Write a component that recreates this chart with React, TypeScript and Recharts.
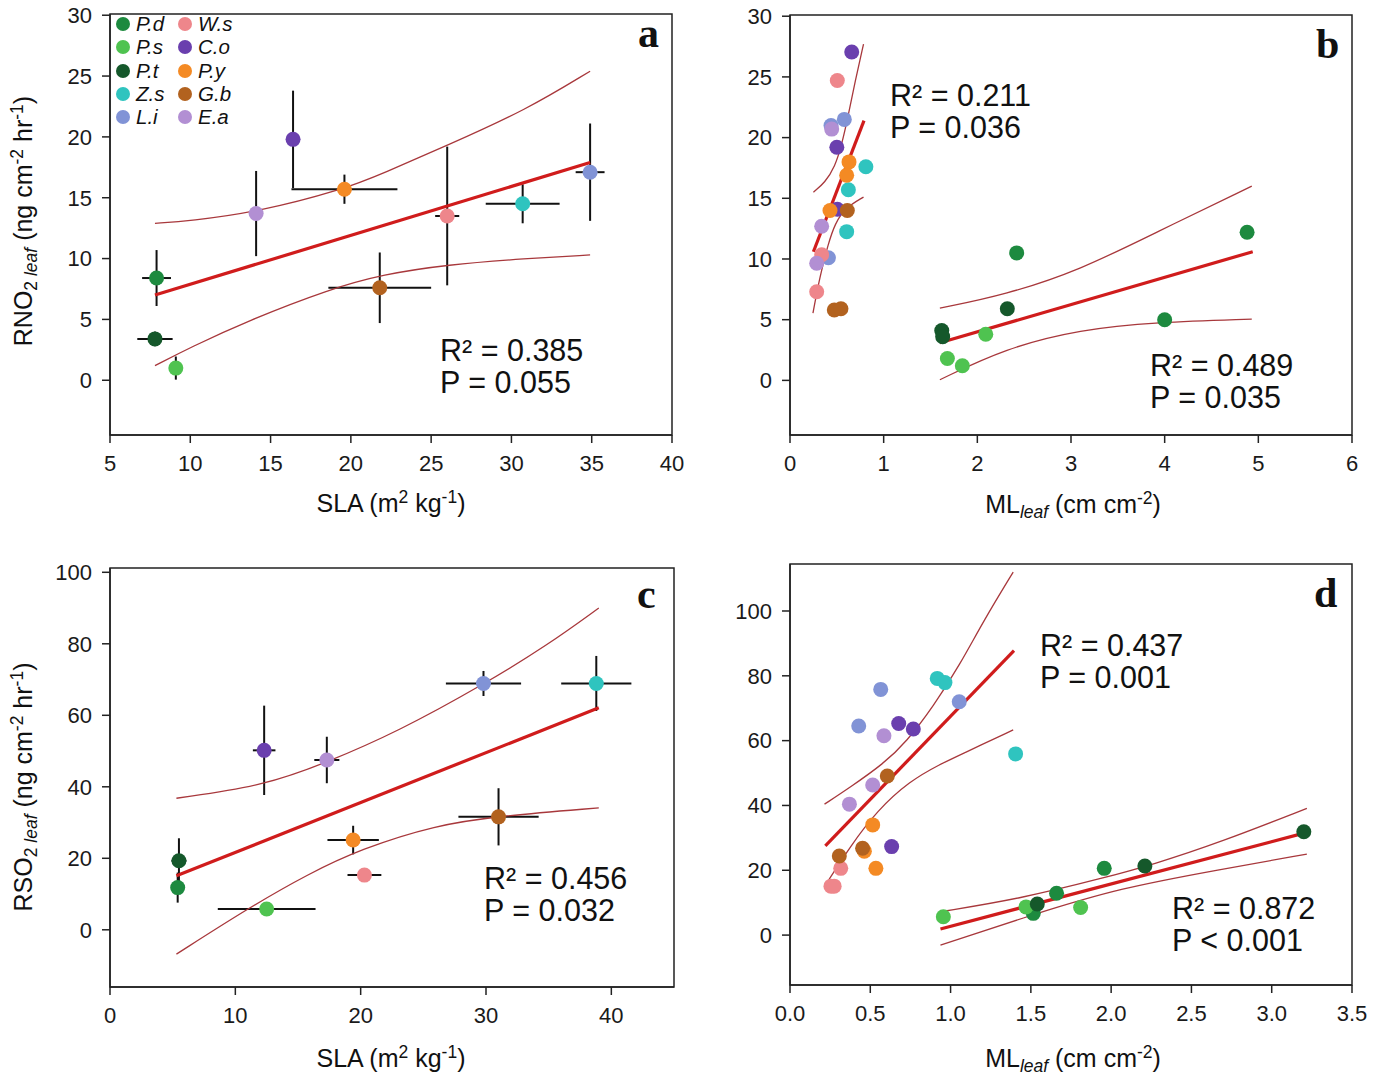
import React from "react";
import { ErrorBar, ReferenceArea, Scatter, ScatterChart, XAxis, YAxis } from "recharts";

const FONT = '"Liberation Sans", Arial, Helvetica, sans-serif';

const species = ["P.d", "P.s", "P.t", "Z.s", "L.i", "W.s", "C.o", "P.y", "G.b", "E.a"];
const speciesColors = [
  "#1d8a3f", "#4fc350", "#15582b", "#2fc4bf", "#8193d6",
  "#ee868b", "#6a3fae", "#f48a24", "#b2621f", "#b28fd3"
];

// panel a: species means, same order as `species`
const slaA = [7.9, 9.1, 7.8, 30.7, 34.9, 26.0, 16.4, 19.6, 21.8, 14.1];
const slaErrA = [0.9, 0, 1.1, 2.3, 0.9, 0.75, 0, 3.3, 3.2, 0];
const rno2A = [8.4, 1.0, 3.4, 14.5, 17.1, 13.5, 19.8, 15.7, 7.6, 13.7];
const rno2ErrA = [2.3, 0.95, 0.6, 1.6, 4.0, 5.7, 4.0, 1.2, 2.9, 3.5];
const fitAx = [7.8, 34.9];
const fitAy = [7.0, 17.9];
const upperAx = [7.8, 10, 14.1, 19.6, 22, 26, 30.9, 34.9];
const upperAy = [12.9, 13.1, 13.8, 15.7, 17.0, 19.3, 22.2, 25.4];
const lowerAx = [7.8, 10, 13.6, 18.7, 22, 26, 30.9, 34.9];
const lowerAy = [1.2, 2.7, 4.9, 7.5, 8.7, 9.5, 10.0, 10.3];

// panel b: three replicates per species
const speciesB = [0, 0, 0, 1, 1, 1, 2, 2, 2, 3, 3, 3, 4, 4, 4, 5, 5, 5, 6, 6, 6, 7, 7, 7, 8, 8, 8, 9, 9, 9];
const mlB = [
  2.42, 4.88, 4.0, 2.09, 1.68, 1.84, 2.32, 1.62, 1.63, 0.81, 0.623, 0.605, 0.58, 0.438, 0.41,
  0.505, 0.338, 0.285, 0.659, 0.5, 0.505, 0.63, 0.605, 0.427, 0.612, 0.473, 0.544, 0.445, 0.338, 0.285
];
const rno2B = [
  10.5, 12.2, 5.0, 3.8, 1.8, 1.2, 5.9, 4.1, 3.6, 17.6, 15.7, 12.25, 21.5, 21.0, 10.1,
  24.7, 10.35, 7.3, 27.05, 19.2, 14.1, 18.0, 16.9, 14.0, 14.0, 5.8, 5.9, 20.7, 12.7, 9.65
];
const fitB1x = [0.25, 0.79];
const fitB1y = [10.6, 21.4];
const upperB1x = [0.25, 0.374, 0.48, 0.552, 0.622, 0.694, 0.785];
const upperB1y = [15.5, 16.3, 17.6, 19.4, 21.8, 24.6, 27.7];
const lowerB1x = [0.245, 0.32, 0.41, 0.48, 0.587, 0.785];
const lowerB1y = [5.55, 8.6, 11.3, 12.9, 14.2, 15.1];
const fitB2x = [1.6, 4.94];
const fitB2y = [3.1, 10.6];
const upperB2x = [1.6, 2.3, 3.1, 3.91, 4.93];
const upperB2y = [5.95, 7.05, 9.1, 12.2, 16.0];
const lowerB2x = [1.6, 2.3, 3.1, 3.91, 4.93];
const lowerB2y = [0.05, 2.65, 4.2, 4.8, 5.05];

// panel c: species means
const slaC = [5.4, 12.5, 5.5, 38.8, 29.8, 20.3, 12.3, 19.4, 31.0, 17.3];
const slaErrC = [0.3, 3.9, 0.6, 2.8, 3.0, 1.35, 0.9, 2.05, 3.2, 1.0];
const rso2C = [11.8, 5.8, 19.3, 68.9, 68.9, 15.3, 50.2, 25.1, 31.6, 47.5];
const rso2ErrC = [4.2, 0, 6.3, 7.7, 3.5, 1.0, 12.5, 4.0, 8.0, 6.5];
const fitCx = [5.3, 39.0];
const fitCy = [15.1, 62.1];
const upperCx = [5.3, 12.3, 17.3, 23, 29.8, 34.9, 39.0];
const upperCy = [36.8, 40.3, 46.8, 55.5, 68.6, 79.6, 90.0];
const lowerCx = [5.3, 11.1, 15.8, 20, 26, 31, 39];
const lowerCy = [-6.8, 6.2, 15.6, 22.6, 29.3, 31.8, 34.1];

// panel d: three replicates per species
const speciesD = speciesB;
const mlD = [
  1.515, 1.66, 1.957, 0.955, 1.47, 1.81, 1.54, 2.21, 3.2, 0.917, 0.965, 1.405, 0.428, 0.565, 1.054,
  0.255, 0.275, 0.316, 0.633, 0.677, 0.768, 0.463, 0.535, 0.515, 0.307, 0.452, 0.606, 0.37, 0.515, 0.585
];
const rso2D = [
  6.7, 12.9, 20.6, 5.65, 8.7, 8.5, 9.6, 21.3, 31.9, 79.2, 77.9, 55.9, 64.5, 75.8, 72.0,
  15.1, 15.1, 20.6, 27.3, 65.3, 63.6, 25.9, 20.6, 34.0, 24.4, 26.8, 49.1, 40.4, 46.3, 61.5
];
const fitD1x = [0.22, 1.395];
const fitD1y = [27.5, 87.8];
const upperD1x = [0.215, 0.374, 0.581, 0.727, 0.892, 1.059, 1.206, 1.39];
const upperD1y = [40.4, 45.6, 52.8, 59.7, 70.5, 83.5, 97.0, 112.0];
const lowerD1x = [0.228, 0.374, 0.54, 0.747, 0.934, 1.059, 1.39];
const lowerD1y = [16.0, 27.3, 38.3, 47.6, 52.7, 55.6, 63.3];
const fitD2x = [0.937, 3.219];
const fitD2y = [1.9, 31.7];
const upperD2x = [0.937, 1.432, 1.951, 2.262, 2.677, 3.219];
const upperD2y = [7.2, 11.2, 17.6, 21.8, 28.6, 39.1];
const lowerD2x = [0.937, 1.536, 2.055, 2.677, 3.219];
const lowerD2y = [-3.1, 6.7, 14.5, 20.2, 25.0];

const ticksA = [5, 10, 15, 20, 25, 30, 35, 40];
const ticksRno2 = [0, 5, 10, 15, 20, 25, 30];
const ticksB = [0, 1, 2, 3, 4, 5, 6];
const ticksC = [0, 10, 20, 30, 40];
const ticksRso2 = [0, 20, 40, 60, 80, 100];
const ticksD = [0, 0.5, 1, 1.5, 2, 2.5, 3, 3.5];

type Pt = { x: number; y: number; ex?: number; ey?: number; color: string };
type XY = { x: number; y: number };
type Curve = { data: XY[]; kind: "fit" | "band" };

const zip = (xs: number[], ys: number[]): XY[] => xs.map((x, i) => ({ x, y: ys[i] }));

const meansA: Pt[] = species.map((_, i) => ({
  x: slaA[i], y: rno2A[i], ex: slaErrA[i], ey: rno2ErrA[i], color: speciesColors[i]
}));
const meansC: Pt[] = species.map((_, i) => ({
  x: slaC[i], y: rso2C[i], ex: slaErrC[i], ey: rso2ErrC[i], color: speciesColors[i]
}));
const repsB: Pt[] = speciesB.map((s, i) => ({ x: mlB[i], y: rno2B[i], color: speciesColors[s] }));
const repsD: Pt[] = speciesD.map((s, i) => ({ x: mlD[i], y: rso2D[i], color: speciesColors[s] }));

const curvesA: Curve[] = [
  { data: zip(upperAx, upperAy), kind: "band" },
  { data: zip(lowerAx, lowerAy), kind: "band" },
  { data: zip(fitAx, fitAy), kind: "fit" }
];
const curvesB: Curve[] = [
  { data: zip(upperB1x, upperB1y), kind: "band" },
  { data: zip(lowerB1x, lowerB1y), kind: "band" },
  { data: zip(fitB1x, fitB1y), kind: "fit" },
  { data: zip(upperB2x, upperB2y), kind: "band" },
  { data: zip(lowerB2x, lowerB2y), kind: "band" },
  { data: zip(fitB2x, fitB2y), kind: "fit" }
];
const curvesC: Curve[] = [
  { data: zip(upperCx, upperCy), kind: "band" },
  { data: zip(lowerCx, lowerCy), kind: "band" },
  { data: zip(fitCx, fitCy), kind: "fit" }
];
const curvesD: Curve[] = [
  { data: zip(upperD1x, upperD1y), kind: "band" },
  { data: zip(lowerD1x, lowerD1y), kind: "band" },
  { data: zip(fitD1x, fitD1y), kind: "fit" },
  { data: zip(upperD2x, upperD2y), kind: "band" },
  { data: zip(lowerD2x, lowerD2y), kind: "band" },
  { data: zip(fitD2x, fitD2y), kind: "fit" }
];

const tickStyle = { fill: "#1a1a1a", fontSize: 22, fontFamily: FONT };
const axisLineStyle = { stroke: "#222", strokeWidth: 1.5 };

function Dot(props: any) {
  const { cx, cy, payload } = props;
  if (cx == null || cy == null) return <g />;
  return <circle cx={cx} cy={cy} r={7.5} fill={payload.color} />;
}

function NoDot() {
  return <g />;
}

type PanelProps = {
  left: number;
  top: number;
  width: number;
  height: number;
  margin: { top: number; right: number; left: number; bottom: number };
  yAxisWidth: number;
  xDomain: [number, number];
  xTicks: number[];
  yDomain: [number, number];
  yTicks: number[];
  xFormat?: (v: number) => string;
  points: Pt[];
  curves: Curve[];
  withErrors?: boolean;
};

function Panel({
  left, top, width, height, margin, yAxisWidth, xDomain, xTicks, yDomain, yTicks,
  xFormat, points, curves, withErrors
}: PanelProps) {
  return (
    <div style={{ position: "absolute", left, top }}>
      <ScatterChart width={width} height={height} margin={margin}>
        <XAxis
          type="number"
          dataKey="x"
          domain={xDomain}
          ticks={xTicks}
          interval={0}
          allowDataOverflow
          tickFormatter={xFormat}
          height={40}
          tick={tickStyle}
          tickSize={8}
          tickMargin={12}
          axisLine={axisLineStyle}
          tickLine={axisLineStyle}
        />
        <YAxis
          type="number"
          dataKey="y"
          domain={yDomain}
          ticks={yTicks}
          interval={0}
          allowDataOverflow
          width={yAxisWidth}
          tick={tickStyle}
          tickSize={8}
          tickMargin={10}
          axisLine={axisLineStyle}
          tickLine={axisLineStyle}
        />
        <ReferenceArea
          x1={xDomain[0]}
          x2={xDomain[1]}
          y1={yDomain[0]}
          y2={yDomain[1]}
          fill="none"
          stroke="#222"
          strokeWidth={1.5}
        />
        {curves.map((c, i) => (
          <Scatter
            key={i}
            data={c.data}
            shape={NoDot}
            line={
              c.kind === "fit"
                ? { stroke: "#d01c1c", strokeWidth: 3.2 }
                : { stroke: "#a8383c", strokeWidth: 1.3 }
            }
            lineJointType={c.kind === "band" ? "basis" : "linear"}
            isAnimationActive={false}
          />
        ))}
        <Scatter data={points} shape={Dot} isAnimationActive={false}>
          {withErrors ? (
            <ErrorBar dataKey="ex" direction="x" width={0} stroke="#111" strokeWidth={2} isAnimationActive={false} />
          ) : null}
          {withErrors ? (
            <ErrorBar dataKey="ey" direction="y" width={0} stroke="#111" strokeWidth={2} isAnimationActive={false} />
          ) : null}
        </Scatter>
      </ScatterChart>
    </div>
  );
}

function Stat({ left, top, lines }: { left: number; top: number; lines: string[] }) {
  return (
    <div
      style={{
        position: "absolute",
        left,
        top,
        fontFamily: FONT,
        fontSize: 30.5,
        lineHeight: "32px",
        color: "#111",
        whiteSpace: "nowrap"
      }}
    >
      {lines.map((l) => (
        <div key={l}>{l}</div>
      ))}
    </div>
  );
}

function Letter({ left, top, text }: { left: number; top: number; text: string }) {
  return (
    <div
      style={{
        position: "absolute",
        left,
        top,
        fontFamily: '"Liberation Serif", "Times New Roman", serif',
        fontWeight: 700,
        fontSize: 42,
        lineHeight: "40px",
        color: "#111"
      }}
    >
      {text}
    </div>
  );
}

const supStyle = { fontSize: "0.7em", verticalAlign: "0.5em" } as const;
const subStyle = { fontSize: "0.7em", verticalAlign: "-0.3em" } as const;

function XTitle({ cx, cy, kind }: { cx: number; cy: number; kind: "sla" | "ml" }) {
  return (
    <div
      style={{
        position: "absolute",
        left: cx - 200,
        top: cy - 15,
        width: 400,
        textAlign: "center",
        fontFamily: FONT,
        fontSize: 25,
        lineHeight: "30px",
        color: "#111",
        whiteSpace: "nowrap"
      }}
    >
      {kind === "sla" ? (
        <>
          SLA (m<span style={supStyle}>2</span> kg<span style={supStyle}>-1</span>)
        </>
      ) : (
        <>
          ML<span style={{ ...subStyle, fontStyle: "italic" }}>leaf</span> (cm cm<span style={supStyle}>-2</span>)
        </>
      )}
    </div>
  );
}

function YTitle({ cx, cy, gas }: { cx: number; cy: number; gas: string }) {
  return (
    <div
      style={{
        position: "absolute",
        left: cx - 200,
        top: cy - 15,
        width: 400,
        textAlign: "center",
        transform: "rotate(-90deg)",
        fontFamily: FONT,
        fontSize: 25,
        lineHeight: "30px",
        color: "#111",
        whiteSpace: "nowrap"
      }}
    >
      {gas}
      <span style={subStyle}>
        2 <i>leaf</i>
      </span>{" "}
      (ng cm<span style={supStyle}>-2</span> hr<span style={supStyle}>-1</span>)
    </div>
  );
}

function SpeciesLegend() {
  return (
    <div style={{ position: "absolute", left: 0, top: 0 }}>
      {species.map((s, i) => {
        const col = i < 5 ? 0 : 1;
        const row = i % 5;
        const cx = col === 0 ? 123 : 185;
        const cy = 24 + row * 23.3;
        return (
          <div key={s}>
            <div
              style={{
                position: "absolute",
                left: cx - 7,
                top: cy - 7,
                width: 14,
                height: 14,
                borderRadius: "50%",
                background: speciesColors[i]
              }}
            />
            <div
              style={{
                position: "absolute",
                left: cx + 13,
                top: cy - 12,
                fontFamily: FONT,
                fontStyle: "italic",
                fontSize: 20.5,
                lineHeight: "24px",
                color: "#111"
              }}
            >
              {s}
            </div>
          </div>
        );
      })}
    </div>
  );
}

export default function App() {
  return (
    <div
      style={{
        position: "absolute",
        left: 0,
        top: 0,
        width: 1374,
        height: 1080,
        background: "#fff",
        overflow: "hidden"
      }}
    >
      <Panel
        left={0}
        top={0}
        width={700}
        height={475}
        margin={{ top: 14, right: 28, left: 0, bottom: 0 }}
        yAxisWidth={110}
        xDomain={[5, 40]}
        xTicks={ticksA}
        yDomain={[-4.5, 30.1]}
        yTicks={ticksRno2}
        points={meansA}
        curves={curvesA}
        withErrors
      />
      <Panel
        left={700}
        top={0}
        width={674}
        height={475}
        margin={{ top: 15, right: 22, left: 0, bottom: 0 }}
        yAxisWidth={90}
        xDomain={[0, 6]}
        xTicks={ticksB}
        yDomain={[-4.5, 30.1]}
        yTicks={ticksRno2}
        points={repsB}
        curves={curvesB}
      />
      <Panel
        left={0}
        top={540}
        width={700}
        height={487}
        margin={{ top: 28, right: 26, left: 0, bottom: 0 }}
        yAxisWidth={110}
        xDomain={[0, 45]}
        xTicks={ticksC}
        yDomain={[-16, 101.2]}
        yTicks={ticksRso2}
        points={meansC}
        curves={curvesC}
        withErrors
      />
      <Panel
        left={700}
        top={540}
        width={674}
        height={485}
        margin={{ top: 24, right: 22, left: 0, bottom: 0 }}
        yAxisWidth={90}
        xDomain={[0, 3.5]}
        xTicks={ticksD}
        xFormat={(v) => v.toFixed(1)}
        yDomain={[-15.4, 114.5]}
        yTicks={ticksRso2}
        points={repsD}
        curves={curvesD}
      />

      <SpeciesLegend />

      <Stat left={440} top={334} lines={["R² = 0.385", "P = 0.055"]} />
      <Stat left={890} top={79} lines={["R² = 0.211", "P = 0.036"]} />
      <Stat left={1150} top={349} lines={["R² = 0.489", "P = 0.035"]} />
      <Stat left={484} top={862} lines={["R² = 0.456", "P = 0.032"]} />
      <Stat left={1040} top={629} lines={["R² = 0.437", "P = 0.001"]} />
      <Stat left={1172} top={892} lines={["R² = 0.872", "P < 0.001"]} />

      <Letter left={638} top={13} text="a" />
      <Letter left={1316} top={24} text="b" />
      <Letter left={637} top={574} text="c" />
      <Letter left={1314} top={573} text="d" />

      <XTitle cx={391} cy={497} kind="sla" />
      <XTitle cx={1073} cy={498} kind="ml" />
      <XTitle cx={391} cy={1052} kind="sla" />
      <XTitle cx={1073} cy={1052} kind="ml" />
      <YTitle cx={24} cy={214} gas="RNO" />
      <YTitle cx={24} cy={780} gas="RSO" />
    </div>
  );
}
